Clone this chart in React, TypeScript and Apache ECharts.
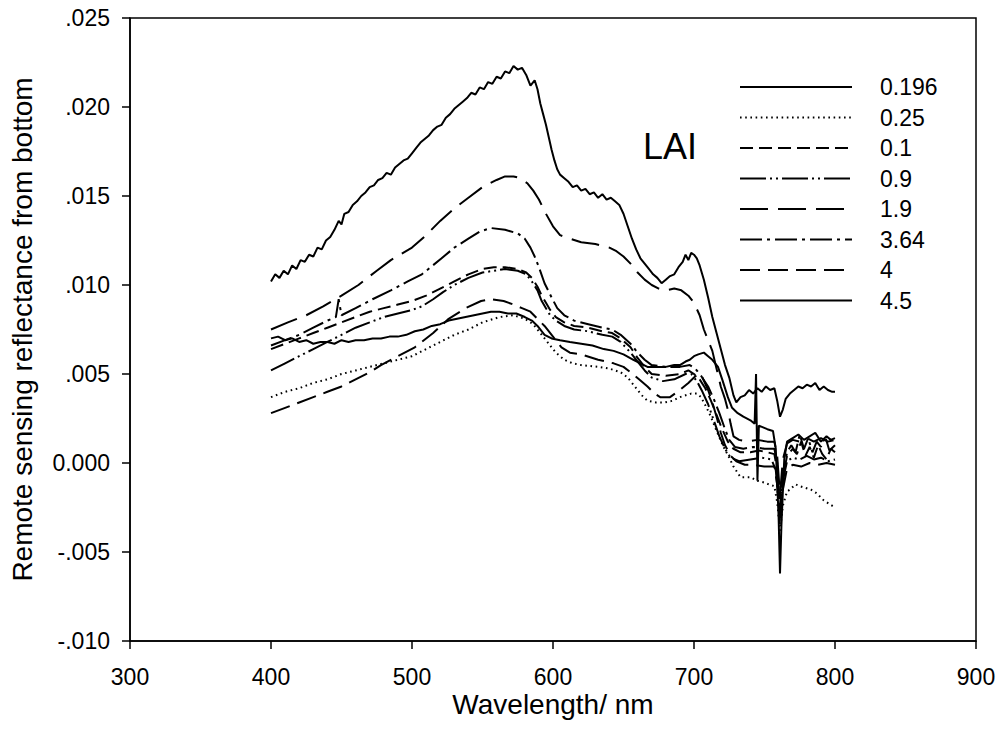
import React, { useEffect, useRef } from "react";
import * as echarts from "echarts";

// LAI values (legend labels)
const laiLabels = ["0.196", "0.25", "0.1", "0.9", "1.9", "3.64", "4", "4.5"];

const xTicks = { min: 300, max: 900, interval: 100 };
const yTicks = { min: -0.01, max: 0.025, interval: 0.005 };

// [wavelength nm, Rrs]
const lai0196: number[][] = [
  [400, 0.0102], [403, 0.0106], [406, 0.0104], [409, 0.0108], [412, 0.0106], [415, 0.0111], [418, 0.0109],
  [421, 0.0114], [424, 0.0113], [427, 0.0117], [430, 0.0116], [433, 0.0121], [436, 0.012], [439, 0.0125],
  [442, 0.0127], [445, 0.0131], [448, 0.0136], [450, 0.0134], [452, 0.014], [455, 0.0141], [458, 0.0145],
  [461, 0.0147], [464, 0.015], [467, 0.0152], [470, 0.0155], [473, 0.0156], [476, 0.0159], [479, 0.016],
  [482, 0.0163], [485, 0.0162], [488, 0.0166], [491, 0.0168], [494, 0.017], [497, 0.0171], [500, 0.0174],
  [503, 0.0177], [506, 0.018], [509, 0.0182], [512, 0.0184], [515, 0.0187], [518, 0.0189], [521, 0.019],
  [524, 0.0194], [527, 0.0196], [530, 0.0199], [533, 0.0201], [536, 0.0203], [539, 0.0205], [542, 0.0208],
  [545, 0.0207], [548, 0.0211], [551, 0.021], [554, 0.0214], [557, 0.0213], [560, 0.0217], [563, 0.0216],
  [566, 0.022], [569, 0.0219], [572, 0.0223], [575, 0.0221], [578, 0.0222], [581, 0.0218], [584, 0.0212],
  [587, 0.0215], [589, 0.021], [591, 0.0202], [593, 0.0196], [595, 0.019], [597, 0.0183], [599, 0.0176],
  [601, 0.017], [603, 0.0165], [605, 0.0162], [608, 0.016], [611, 0.0158], [614, 0.0155], [617, 0.0156],
  [620, 0.0153], [623, 0.0154], [626, 0.0151], [629, 0.0152], [632, 0.0149], [635, 0.0151], [638, 0.0148],
  [641, 0.0149], [644, 0.0147], [647, 0.0145], [650, 0.014], [653, 0.0133], [656, 0.0126], [659, 0.012],
  [662, 0.0115], [665, 0.0112], [668, 0.0109], [671, 0.0106], [674, 0.0104], [677, 0.0101], [680, 0.0103],
  [683, 0.0105], [686, 0.0106], [689, 0.011], [692, 0.0113], [694, 0.0117], [696, 0.0114], [698, 0.0118],
  [700, 0.0117], [702, 0.0115], [704, 0.0111], [707, 0.0103], [710, 0.0093], [713, 0.0082], [716, 0.0073],
  [719, 0.0064], [722, 0.0055], [725, 0.0048], [728, 0.0038], [730, 0.0034], [733, 0.0037], [736, 0.0038],
  [739, 0.0041], [742, 0.0039], [745, 0.0042], [748, 0.004], [751, 0.0043], [754, 0.0041], [757, 0.0042],
  [759, 0.0035], [761, 0.0026], [763, 0.003], [765, 0.0036], [768, 0.0039], [771, 0.0041], [774, 0.0043],
  [777, 0.0042], [780, 0.0044], [783, 0.0043], [786, 0.0045], [789, 0.0041], [792, 0.0043], [795, 0.0041],
  [798, 0.004], [800, 0.004],
];

const lai025: number[][] = [
  [400, 0.0037], [410, 0.004], [420, 0.0042], [430, 0.0045], [440, 0.0047], [450, 0.005], [460, 0.0052],
  [470, 0.0054], [480, 0.0056], [490, 0.0058], [500, 0.006], [510, 0.0064], [520, 0.0068], [530, 0.0072],
  [540, 0.0075], [550, 0.0079], [562, 0.0082], [572, 0.0083], [580, 0.0081], [586, 0.0078], [590, 0.0074],
  [594, 0.007], [597, 0.0067], [602, 0.0062], [608, 0.0058], [614, 0.0056], [620, 0.0055], [632, 0.0054],
  [640, 0.0053], [648, 0.0051], [653, 0.0048], [658, 0.0043], [663, 0.0038], [667, 0.0035], [673, 0.0034],
  [679, 0.0034], [685, 0.0035], [690, 0.0037], [698, 0.0039], [702, 0.0039], [705, 0.0037], [709, 0.0031],
  [712, 0.0026], [716, 0.0018], [721, 0.0009], [725, 0.0003], [728, -0.0002], [733, -0.0008], [740, -0.0008],
  [745, -0.001], [750, -0.0011], [753, -0.0012], [757, -0.0013], [759, -0.0022], [761, -0.0038], [763, -0.0024],
  [766, -0.0016], [768, -0.0015], [772, -0.0012], [775, -0.0013], [779, -0.0014], [783, -0.0015], [787, -0.0017],
  [792, -0.0021], [796, -0.0023], [800, -0.0025],
];

const lai01: number[][] = [
  [400, 0.0064], [410, 0.0067], [420, 0.007], [430, 0.0073], [440, 0.0076], [450, 0.0079], [460, 0.0082],
  [470, 0.0085], [480, 0.0087], [490, 0.0089], [500, 0.0091], [510, 0.0094], [520, 0.0098], [530, 0.0102],
  [540, 0.0106], [550, 0.0109], [558, 0.011], [566, 0.011], [575, 0.0109], [581, 0.0107], [585, 0.0104],
  [589, 0.0099], [592, 0.0094], [595, 0.009], [598, 0.0086], [602, 0.0082], [608, 0.0079], [615, 0.0077],
  [625, 0.0076], [635, 0.0074], [642, 0.0073], [648, 0.007], [655, 0.0065], [660, 0.0059], [665, 0.0054],
  [670, 0.005], [680, 0.0049], [690, 0.005], [696, 0.0052], [700, 0.005], [704, 0.0047], [708, 0.0042],
  [712, 0.0035], [716, 0.0027], [720, 0.0019], [724, 0.0012], [728, 0.0008], [733, 0.0006], [740, 0.0006],
  [746, 0.0007], [752, 0.0006], [757, 0.0005], [759, -0.0004], [761, -0.0024], [763, -0.0008], [766, 0.0004],
  [770, 0.0008], [773, 0.0005], [776, 0.0012], [779, 0.0004], [782, 0.0009], [785, 0.0003], [788, 0.001],
  [791, 0.0005], [794, 0.0002], [797, 0.0008], [800, 0.0006],
];

const lai09: number[][] = [
  [400, 0.0052], [410, 0.0056], [420, 0.006], [430, 0.0064], [440, 0.0068], [450, 0.0072], [460, 0.0076],
  [470, 0.0079], [480, 0.0082], [490, 0.0084], [500, 0.0086], [507, 0.0088], [515, 0.0092], [522, 0.0096],
  [530, 0.01], [540, 0.0104], [550, 0.0107], [558, 0.0108], [566, 0.0109], [575, 0.0108], [581, 0.0106],
  [585, 0.0102], [589, 0.0097], [592, 0.0091], [595, 0.0087], [598, 0.0083], [602, 0.008], [608, 0.0077],
  [615, 0.0075], [625, 0.0074], [635, 0.0072], [642, 0.0071], [648, 0.0068], [655, 0.0062], [660, 0.0057],
  [665, 0.0052], [670, 0.0048], [678, 0.0046], [686, 0.0047], [694, 0.005], [698, 0.005], [702, 0.0046],
  [706, 0.004], [710, 0.0033], [714, 0.0024], [718, 0.0015], [722, 0.0008], [726, 0.0003], [732, 0.0001],
  [740, 0.0002], [748, 0.0003], [755, 0.0002], [758, -0.0004], [761, -0.003], [763, -0.001], [766, 0.0001],
  [770, 0.0003], [775, 0.0002], [780, 0.0004], [785, 0.0002], [790, 0.0003], [795, 0.0001], [800, 0.0002],
];

const lai19: number[][] = [
  [400, 0.0075], [412, 0.0079], [425, 0.0083], [437, 0.0088], [450, 0.0094], [462, 0.01], [475, 0.0108],
  [485, 0.0114], [500, 0.0121], [510, 0.0128], [520, 0.0136], [530, 0.0143], [540, 0.0149], [550, 0.0155],
  [560, 0.0159], [566, 0.0161], [572, 0.0161], [577, 0.016], [582, 0.0157], [586, 0.0153], [590, 0.0148],
  [595, 0.014], [600, 0.0133], [605, 0.0128], [612, 0.0126], [620, 0.0124], [630, 0.0123], [640, 0.0121],
  [645, 0.0119], [650, 0.0116], [655, 0.0112], [660, 0.0107], [665, 0.0103], [670, 0.01], [675, 0.0098],
  [680, 0.0097], [686, 0.0098], [691, 0.0097], [696, 0.0094], [700, 0.009], [704, 0.0083], [707, 0.0075],
  [710, 0.0069], [713, 0.0063], [716, 0.0053], [719, 0.0043], [722, 0.0036], [724, 0.003], [726, 0.0022],
  [728, 0.0015], [732, 0.0013], [738, 0.0012], [745, 0.0013], [752, 0.0012], [757, 0.0012], [759, 0.0004],
  [761, -0.0018], [763, 0.0002], [766, 0.0011], [770, 0.0013], [775, 0.0012], [780, 0.0014], [785, 0.0012],
  [790, 0.0014], [795, 0.0012], [800, 0.0013],
];

const lai364: number[][] = [
  [400, 0.0066], [410, 0.0069], [420, 0.0072], [430, 0.0076], [440, 0.008], [446, 0.0082], [448, 0.0092],
  [450, 0.0083], [460, 0.0087], [472, 0.0092], [485, 0.0097], [497, 0.0102], [507, 0.0106], [521, 0.0115],
  [530, 0.0121], [540, 0.0126], [548, 0.013], [556, 0.0132], [566, 0.0131], [575, 0.0129], [580, 0.0126],
  [584, 0.0121], [587, 0.0116], [590, 0.011], [594, 0.0101], [599, 0.0093], [603, 0.0087], [608, 0.0083],
  [615, 0.008], [625, 0.0078], [635, 0.0076], [642, 0.0075], [648, 0.0072], [655, 0.0067], [660, 0.0062],
  [665, 0.0058], [670, 0.0055], [680, 0.0054], [690, 0.0054], [697, 0.0055], [701, 0.0053], [705, 0.0049],
  [710, 0.0043], [714, 0.0036], [718, 0.0028], [722, 0.0019], [725, 0.0013], [729, 0.0009], [735, 0.0008],
  [742, 0.0009], [750, 0.0008], [757, 0.0008], [759, 0.0], [761, -0.0027], [763, -0.0006], [766, 0.0006],
  [769, 0.001], [772, 0.0006], [775, 0.0016], [778, 0.0008], [781, 0.0014], [784, 0.0006], [787, 0.0012],
  [790, 0.0009], [793, 0.0015], [796, 0.0007], [800, 0.001],
];

const lai4: number[][] = [
  [400, 0.0028], [410, 0.0031], [420, 0.0034], [430, 0.0037], [440, 0.004], [450, 0.0043], [460, 0.0047],
  [470, 0.0051], [478, 0.0055], [490, 0.006], [502, 0.0065], [515, 0.0073], [526, 0.0081], [538, 0.0087],
  [549, 0.0091], [556, 0.0092], [565, 0.0091], [572, 0.0089], [578, 0.0087], [584, 0.0085], [589, 0.0081],
  [594, 0.0077], [600, 0.0071], [606, 0.0065], [612, 0.0062], [620, 0.0061], [632, 0.0058], [643, 0.0056],
  [650, 0.0054], [655, 0.0051], [661, 0.0047], [667, 0.0043], [672, 0.0039], [676, 0.0037], [683, 0.0037],
  [690, 0.0041], [696, 0.0045], [700, 0.0048], [703, 0.005], [706, 0.0048], [710, 0.0041], [713, 0.0034],
  [716, 0.0026], [719, 0.0017], [722, 0.001], [726, 0.0004], [730, 0.0001], [736, -0.0001], [742, -0.0001],
  [750, -0.0002], [757, -0.0002], [759, -0.0012], [761, -0.0035], [763, -0.0015], [766, -0.0003], [770, -0.0001],
  [776, -0.0002], [782, 0.0], [788, -0.0001], [794, 0.0], [800, -0.0001],
];

const lai45: number[][] = [
  [400, 0.007], [405, 0.0071], [410, 0.0069], [415, 0.007], [420, 0.0068], [425, 0.0069], [430, 0.0067],
  [435, 0.0068], [440, 0.0068], [445, 0.0067], [450, 0.0069], [455, 0.0068], [460, 0.0069], [466, 0.0069],
  [472, 0.007], [478, 0.007], [484, 0.0071], [490, 0.0071], [496, 0.0072], [502, 0.0074], [508, 0.0075],
  [514, 0.0077], [520, 0.0078], [526, 0.008], [532, 0.0081], [538, 0.0082], [544, 0.0083], [550, 0.0084],
  [556, 0.0085], [562, 0.0085], [568, 0.0084], [574, 0.0084], [580, 0.0082], [585, 0.008], [589, 0.0077],
  [594, 0.0072], [599, 0.007], [605, 0.0069], [612, 0.0068], [620, 0.0067], [628, 0.0066], [636, 0.0064],
  [643, 0.0063], [650, 0.0061], [657, 0.0058], [662, 0.0056], [667, 0.0054], [674, 0.0054], [680, 0.0054],
  [686, 0.0055], [690, 0.0055], [694, 0.0057], [697, 0.0058], [700, 0.006], [703, 0.0061], [707, 0.0062],
  [710, 0.006], [713, 0.0058], [717, 0.0054], [720, 0.0047], [724, 0.0037], [727, 0.0031], [731, 0.0028],
  [735, 0.0026], [740, 0.0024], [743, 0.0022], [744, 0.005], [745, -0.001], [746, 0.0021], [749, 0.002],
  [752, 0.0019], [756, 0.0018], [758, 0.0008], [760, -0.003], [761, -0.0062], [762, -0.0035], [764, 0.0002],
  [766, 0.0012], [770, 0.0014], [774, 0.0016], [778, 0.0013], [782, 0.0015], [786, 0.0017], [790, 0.0012],
  [794, 0.0015], [797, 0.0013], [800, 0.0014],
];

const seriesData = [lai0196, lai025, lai01, lai09, lai19, lai364, lai4, lai45];
const dashStyles: (number[] | null)[] = [
  null,
  [1.6, 3.6],
  [13, 6],
  [26, 4, 2, 4, 2, 4],
  [28, 10],
  [22, 5, 3, 5],
  [20, 8],
  null,
];

const FONT = "'Liberation Sans', Arial, Helvetica, sans-serif";

function fmtY(v: number): string {
  if (Math.abs(v) < 1e-9) return "0.000";
  const s = Math.round(Math.abs(v) * 1000).toString().padStart(3, "0");
  return (v < 0 ? "-" : "") + "." + s;
}

export default function App() {
  const ref = useRef<HTMLDivElement>(null);
  useEffect(() => {
    document.body.style.margin = "0";
    if (!ref.current) return;
    const chart = echarts.init(ref.current, undefined, { renderer: "svg" });
    const axisLine = { show: true, onZero: false, lineStyle: { color: "#000", width: 1.5 } };

    // hand-drawn legend (line sample + label), positioned like the original
    const legendTop = 87;
    const legendStep = 30.5;
    const legendGraphics: any[] = [];
    laiLabels.forEach((lab, i) => {
      const y = legendTop + i * legendStep;
      legendGraphics.push({
        type: "line",
        shape: { x1: 740, y1: y, x2: 852, y2: y },
        style: { stroke: "#000", lineWidth: 2, lineDash: dashStyles[i] || null },
        silent: true,
      });
      legendGraphics.push({
        type: "text",
        x: 880,
        y: y,
        style: { text: lab, fontSize: 23, fontFamily: FONT, fill: "#000", verticalAlign: "middle", align: "left" },
        silent: true,
      });
    });

    chart.setOption({
      animation: false,
      backgroundColor: "#fff",
      textStyle: { fontFamily: FONT },
      grid: {
        left: 128,
        right: 24,
        top: 18,
        bottom: 111,
        show: true,
        borderColor: "#000",
        borderWidth: 1.5,
        backgroundColor: "transparent",
      },
      xAxis: {
        type: "value",
        min: xTicks.min,
        max: xTicks.max,
        interval: xTicks.interval,
        axisLine,
        axisTick: { show: true, length: 8, lineStyle: { color: "#000", width: 1.5 } },
        splitLine: { show: false },
        axisLabel: { color: "#000", fontSize: 23, margin: 24, fontFamily: FONT },
        name: "Wavelength/ nm",
        nameLocation: "middle",
        nameGap: 49,
        nameMoveOverlap: false,
        nameTextStyle: { color: "#000", fontSize: 28, fontFamily: FONT },
      },
      yAxis: {
        type: "value",
        min: yTicks.min,
        max: yTicks.max,
        interval: yTicks.interval,
        axisLine,
        axisTick: { show: true, length: 8, lineStyle: { color: "#000", width: 1.5 } },
        splitLine: { show: false },
        axisLabel: { color: "#000", fontSize: 23, margin: 20, fontFamily: FONT, formatter: fmtY },
        name: "Remote sensing reflectance from bottom",
        nameLocation: "middle",
        nameGap: 94,
        nameTextStyle: { color: "#000", fontSize: 28, fontFamily: FONT },
      },
      graphic: [
        {
          type: "text",
          left: 643,
          top: 128,
          style: { text: "LAI", fontSize: 36, fontFamily: FONT, fill: "#000" },
        },
        ...legendGraphics,
      ],
      series: seriesData.map((d, i) => ({
        name: laiLabels[i],
        type: "line",
        data: d,
        symbol: "none",
        showSymbol: false,
        smooth: false,
        lineStyle: { color: "#000", width: 2, type: dashStyles[i] || "solid" },
        itemStyle: { color: "#000" },
        emphasis: { disabled: true },
      })),
    });
    return () => chart.dispose();
  }, []);
  return <div ref={ref} style={{ width: 1000, height: 752 }} />;
}
